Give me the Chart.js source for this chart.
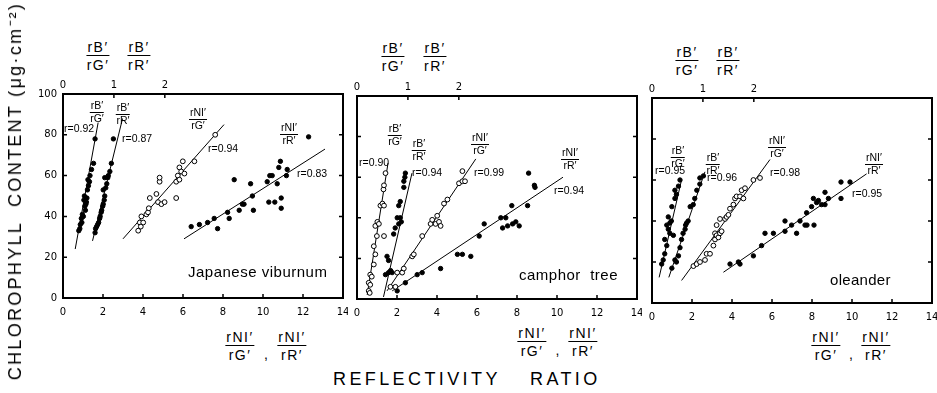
<!DOCTYPE html>
<html>
<head>
<meta charset="utf-8">
<script src="https://cdn.jsdelivr.net/npm/chart.js@4"></script>
<style>
body { margin: 0; background: #fff; width: 937px; height: 393px; position: relative; overflow: hidden;
       font-family: "Liberation Sans", Arial, sans-serif; color: #000; }
canvas { position: absolute; }
.t { position: absolute; white-space: pre; line-height: 1; }
.fr { position: absolute; display: flex; flex-direction: column; align-items: center;
      transform: translateX(-50%); line-height: 1; white-space: nowrap; }
.fr .n { border-bottom: 1px solid #000; padding: 0 1px 1px; }
.fr .d { padding-top: 2px; }
.fr.s .n { padding-bottom: 1px; }
.fr.s .d { padding-top: 0; }
</style>
</head>
<body>
<canvas id="c1" width="330" height="244"></canvas>
<canvas id="c2" width="330" height="243"></canvas>
<canvas id="c3" width="330" height="245"></canvas>
<script>
// top axis (rB'/rG', rB'/rR') runs 0..5.5, bottom axis (rNI'/rG', rNI'/rR') 0..14
// Japanese viburnum
const vibBG = [[.31,33],[.33,34],[.34,36],[.36,39],[.37,37],[.38,41],[.40,40],[.41,48],[.42,50],[.43,45],[.44,43],
  [.45,46],[.46,47],[.47,49],[.48,53],[.49,58],[.50,55],[.52,57],[.53,60],[.56,63],[.60,66],[.63,78]];
const vibBR = [[.63,32],[.64,34],[.66,35],[.68,36],[.70,37],[.72,39],[.73,40],[.75,42],[.76,43],[.78,45],[.79,46],
  [.81,48],[.82,50],[.79,53],[.84,54],[.86,56],[.82,59],[.88,59],[.89,60],[.92,62],[.95,66],[.99,78]];
const vibNG = [[3.76,33],[3.84,37],[3.89,35],[3.92,40],[4.01,37],[4.17,41],[4.25,42],[4.29,44],[4.34,49],[4.67,51],
  [4.75,47],[4.83,57],[4.83,59],[4.92,46],[5.08,47],[5.66,49],[5.66,57],[5.74,60],[5.82,58],[5.82,64],[5.91,62],
  [5.99,67],[6.07,61],[6.57,67],[7.61,80]];
const vibNR = [[6.41,35],[6.82,36],[7.23,37],[7.56,39],[7.73,34],[8.23,42],[8.31,39],[8.56,58],[8.81,43],[8.97,46],
  [9.05,46],[9.38,56],[9.47,50],[9.52,43],[10.21,57],[10.34,60],[10.46,60],[10.29,47],[10.59,47],[10.71,56],
  [10.79,64],[10.87,67],[10.91,49],[10.91,44],[11.17,60],[11.21,63],[12.28,79]];
const vibFits = [[[.24,24],[.69,86]], [[.58,28],[1.17,88]], [[3.0,29],[8.05,85]], [[6.05,29],[13.1,73]]];

// camphor tree
const camBG = [[.23,4],[.25,3],[.23,8],[.26,7],[.26,12],[.29,11],[.33,17],[.36,22],[.33,26],[.39,31],[.36,36],
  [.40,38],[.43,37],[.53,31],[.46,46],[.50,47],[.53,46],[.52,54],[.53,56],[.56,62]];
const camBR = [[.56,12],[.59,21],[.62,13],[.62,19],[.66,14],[.69,13],[.72,32],[.75,35],[.79,40],[.82,37],[.82,46],
  [.85,40],[.85,48],[.87,38],[.92,55],[.92,58],[.94,60],[.95,62]];
const camNG = [[1.67,6],[1.92,6],[2.01,13],[2.26,13],[2.34,15],[2.76,21],[2.84,22],[3.26,31],[3.68,37],[3.76,39],
  [3.93,37],[4.01,41],[4.10,38],[4.18,36],[4.35,47],[4.52,49],[5.10,57],[5.27,58],[5.27,63],[5.40,58]];
const camNR = [[2.01,4],[2.42,8],[3.01,12],[3.26,13],[4.18,15],[5.02,22],[5.27,22],[5.69,21],[6.11,31],[6.36,37],
  [7.19,40],[7.44,40],[7.28,35],[7.53,36],[7.78,37],[7.94,38],[8.11,36],[7.74,46],[8.53,46],[8.58,62],[8.87,56],[8.9,55]];
const camFits = [[[.20,2],[.61,67]], [[.52,1],[1.08,62]], [[1.5,4],[5.94,69]], [[1.76,4],[10.3,60]]];

// oleander
const oleBG = [[.19,19],[.22,21],[.25,24],[.29,28],[.25,31],[.32,36],[.35,34],[.29,38],[.35,39],[.38,40],[.42,33],
  [.32,42],[.39,47],[.45,51],[.48,53],[.45,55],[.52,57],[.55,60]];
const oleBR = [[.39,17],[.45,21],[.48,20],[.52,23],[.55,27],[.58,31],[.61,34],[.65,36],[.66,38],[.68,39],[.71,40],
  [.75,47],[.81,48],[.84,51],[.88,55],[.94,58],[.94,61],[1.01,62]];
const oleNG = [[2.07,18],[2.23,19],[2.40,20],[2.65,21],[2.73,24],[2.90,24],[3.07,28],[3.15,31],[3.15,34],[3.23,33],
  [3.32,32],[3.40,34],[3.48,35],[3.23,38],[3.40,41],[3.65,41],[3.73,42],[3.82,43],[3.90,46],[4.07,48],[4.15,51],
  [4.23,52],[4.40,52],[4.57,51],[4.48,55],[4.65,56],[5.07,60],[5.40,61]];
const oleNR = [[3.9,19],[4.32,20],[4.4,19],[5.07,23],[5.48,28],[5.65,34],[6.07,34],[6.65,40],[6.65,35],[6.98,38],
  [7.23,34],[7.4,40],[7.65,38],[7.73,44],[7.75,38],[8.1,38],[7.98,47],[8.23,49],[8.07,51],[8.32,50],[8.48,48],
  [8.65,48],[8.65,54],[8.82,51],[9.45,51],[9.45,59],[9.9,59]];
const oleFits = [[[.14,12.5],[.58,60]], [[.33,12.5],[1.04,64]], [[1.48,11],[5.9,70]], [[3.57,15],[10.73,63]]];

const yTicks = [0, 20, 40, 60, 80, 100];

const tickFont = { family: '"DejaVu Sans", sans-serif', size: 10 };

function pts(data, axis, open) {
  return { data, xAxisID: axis, showLine: false, pointRadius: open ? 2.4 : 2.2,
    pointBackgroundColor: open ? '#fff' : '#000', pointBorderColor: '#000', pointBorderWidth: 1 };
}
function fit(data, axis) {
  return { data, xAxisID: axis, showLine: true, pointRadius: 0, borderColor: '#000', borderWidth: 1, tension: 0 };
}

const frame = {
  id: 'frame',
  afterDatasetsDraw(chart) {
    const { ctx, chartArea: a, scales } = chart;
    ctx.save();
    ctx.strokeStyle = '#000';
    ctx.lineWidth = 2;
    ctx.strokeRect(a.left, a.top, a.right - a.left, a.bottom - a.top);
    ctx.lineWidth = 1.5;
    ctx.beginPath();
    scales.y.ticks.forEach(t => {
      const p = scales.y.getPixelForValue(t.value);
      ctx.moveTo(a.left, p); ctx.lineTo(a.left + 4, p);
      ctx.moveTo(a.right, p); ctx.lineTo(a.right - 4, p);
    });
    scales.x.ticks.forEach(t => {
      const p = scales.x.getPixelForValue(t.value);
      ctx.moveTo(p, a.bottom); ctx.lineTo(p, a.bottom - 4);
    });
    scales.x2.ticks.forEach(t => {
      const p = scales.x2.getPixelForValue(t.value);
      ctx.moveTo(p, a.top); ctx.lineTo(p, a.top + 4);
    });
    ctx.stroke();
    ctx.restore();
  }
};

const noGrid = { display: false, drawTicks: false, tickLength: 0 };

function panel(id, sets, fits, openBG, showY) {
  const datasets = [
    pts(sets[0], 'x2', openBG), pts(sets[1], 'x2', false), pts(sets[2], 'x', true), pts(sets[3], 'x', false),
    fit(fits[0], 'x2'), fit(fits[1], 'x2'), fit(fits[2], 'x'), fit(fits[3], 'x')
  ];
  return new Chart(document.getElementById(id), {
    type: 'scatter',
    data: { datasets },
    plugins: [frame],
    options: {
      responsive: false,
      animation: false,
      layout: { padding: { right: 5 } },
      plugins: { legend: { display: false }, tooltip: { enabled: false } },
      scales: {
        x: {
          type: 'linear', position: 'bottom', min: 0, max: 14,
          ticks: { stepSize: 2, font: tickFont, color: '#000', padding: 8, maxRotation: 0 },
          grid: noGrid, border: { display: false },
          afterFit: s => { s.height = 20; s.paddingLeft = 0; s.paddingRight = 0; }
        },
        x2: {
          type: 'linear', position: 'top', min: 0, max: 5.5,
          ticks: { stepSize: 1, font: tickFont, color: '#000', padding: 3, maxRotation: 0 },
          afterBuildTicks: s => { s.ticks = s.ticks.filter(t => t.value <= 2); },
          grid: noGrid, border: { display: false },
          afterFit: s => { s.height = 20; s.paddingLeft = 0; s.paddingRight = 0; }
        },
        y: {
          min: 0, max: 100,
          afterBuildTicks: s => { s.ticks = yTicks.map(v => ({ value: v })); },
          ticks: { display: showY, font: tickFont, color: '#000', padding: 6 },
          grid: noGrid, border: { display: false },
          afterFit: s => { s.width = 45; s.paddingTop = 0; s.paddingBottom = 0; }
        }
      }
    }
  });
}

function place(id, left, top) {
  const c = document.getElementById(id);
  c.style.left = left + 'px';
  c.style.top = top + 'px';
}
// canvas origin = plot corner minus axis space (45 left, 20 top)
place('c1', 18, 74);
place('c2', 312, 76);
place('c3', 607, 78);

panel('c1', [vibBG, vibBR, vibNG, vibNR], vibFits, false, true);
panel('c2', [camBG, camBR, camNG, camNR], camFits, true, false);
panel('c3', [oleBG, oleBR, oleNG, oleNR], oleFits, false, false);

// text
function addText(text, left, top, size, extra) {
  const d = document.createElement('div');
  d.className = 't';
  d.textContent = text;
  d.style.left = left + 'px';
  d.style.top = top + 'px';
  d.style.fontSize = size + 'px';
  if (extra) Object.assign(d.style, extra);
  document.body.appendChild(d);
  return d;
}
function addFrac(num, den, cx, top, size, small, spacing) {
  const d = document.createElement('div');
  d.className = small ? 'fr s' : 'fr';
  d.style.left = cx + 'px';
  d.style.top = top + 'px';
  d.style.fontSize = size + 'px';
  if (spacing) d.style.letterSpacing = spacing;
  d.innerHTML = '<span class="n">' + num + '</span><span class="d">' + den + '</span>';
  document.body.appendChild(d);
}

const BG = ['rB\u2032', 'rG\u2032'], BR = ['rB\u2032', 'rR\u2032'], NG = ['rNI\u2032', 'rG\u2032'], NR = ['rNI\u2032', 'rR\u2032'];

// above panels
[[98, 139, 40], [393, 435, 41], [687, 728, 45]].forEach(([a, b, top]) => {
  addFrac(BG[0], BG[1], a, top, 14, false, '1.5px');
  addFrac(BR[0], BR[1], b, top, 14, false, '1.5px');
});
// below panels
[[240, 292, 330], [532, 583, 326], [826, 876, 330]].forEach(([a, b, top]) => {
  addFrac(NG[0], NG[1], a, top, 14, false, '1.5px');
  addText(',', (a + b) / 2 - 2, top + 17, 14);
  addFrac(NR[0], NR[1], b, top, 14, false, '1.5px');
});

// inside panels: [fraction, cx, numTop, r text, rLeft, rTop]
const inside = [
  [BG, 97, 100, 'r=0.92', 64, 123], [BR, 123, 102, 'r=0.87', 122, 133],
  [NG, 198, 107, 'r=0.94', 208, 143], [NR, 289, 122, 'r=0.83', 297, 168],
  [BG, 395, 123, 'r=0.90', 359, 157], [BR, 419, 138, 'r=0.94', 412, 167],
  [NG, 480, 132, 'r=0.99', 474, 167], [NR, 570, 147, 'r=0.94', 554, 185],
  [BG, 678, 145, 'r=0.95', 655, 165], [BR, 713, 152, 'r=0.96', 707, 172],
  [NG, 777, 135, 'r=0.98', 770, 167], [NR, 874, 152, 'r=0.95', 852, 188]
];
inside.forEach(([f, cx, top, r, rl, rt]) => {
  addFrac(f[0], f[1], cx, top, 10.5, true);
  addText(r, rl, rt, 10.5);
});

addText('Japanese viburnum', 188, 264, 15, { letterSpacing: '0.5px' });
addText('camphor  tree', 519, 267, 15, { letterSpacing: '0.5px' });
addText('oleander', 830, 272, 15, { letterSpacing: '0.3px' });

addText('CHLOROPHYLL  CONTENT (\u03bcg\u00b7cm\u207b\u00b2)', 15, 191, 18,
  { transform: 'translate(-50%, -50%) rotate(-90deg)', letterSpacing: '2.3px' });
addText('REFLECTIVITY', 333, 370, 18, { letterSpacing: '3.4px' });
addText('RATIO', 530, 370, 18, { letterSpacing: '3.4px' });
</script>
</body>
</html>
